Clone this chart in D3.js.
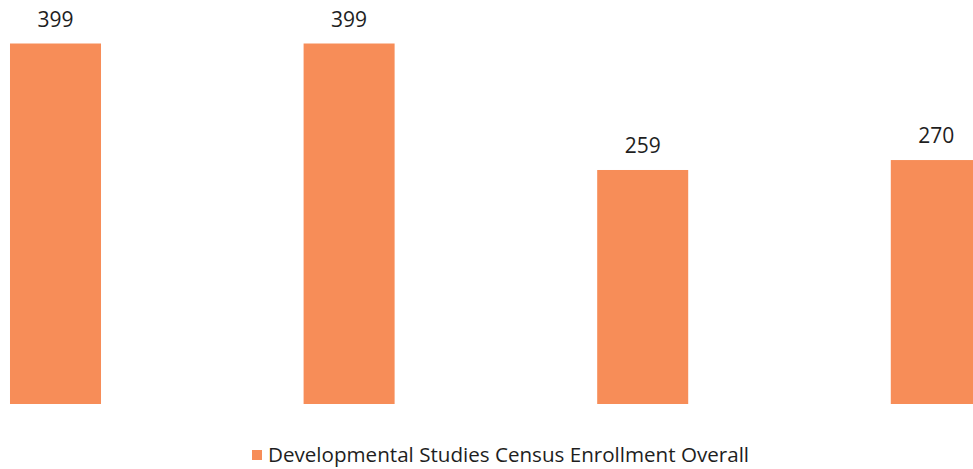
<!DOCTYPE html>
<html>
<head>
<meta charset="utf-8">
<script src="https://cdn.jsdelivr.net/npm/d3@7"></script>
<style>
  html, body { margin: 0; padding: 0; background: #fff; }
  svg { display: block; }
</style>
</head>
<body>
<svg id="chart" width="973" height="469"></svg>
<script>
const categories = ["Group 1", "Group 2", "Group 3", "Group 4"];
const enrollment = [399, 399, 259, 270];
const seriesName = "Developmental Studies Census Enrollment Overall";

const W = 973, H = 469;
const svg = d3.select("#chart");
const color = "#F78D58";
const font = "'Open Sans', 'Liberation Sans', sans-serif";

const x = d3.scaleBand()
  .domain(categories)
  .range([-91.3, 1083.1])
  .paddingInner(0.69)
  .paddingOuter(0.345);

const y = d3.scaleLinear()
  .domain([0, 399])
  .range([404, 43.5]);

const data = categories.map((c, i) => ({ c, v: enrollment[i] }));

svg.selectAll("rect.bar").data(data).enter().append("rect")
  .attr("class", "bar")
  .attr("x", d => x(d.c))
  .attr("y", d => y(d.v))
  .attr("width", x.bandwidth())
  .attr("height", d => y(0) - y(d.v))
  .attr("fill", color);

svg.selectAll("text.lbl").data(data).enter().append("text")
  .attr("class", "lbl")
  .attr("x", d => x(d.c) + x.bandwidth() / 2)
  .attr("y", d => y(d.v) - 17)
  .attr("text-anchor", "middle")
  .attr("font-family", font)
  .attr("font-size", 21)
  .attr("fill", "#1e1e1e")
  .text(d => d.v);

const lg = svg.append("g");
lg.append("rect")
  .attr("x", 252).attr("y", 450)
  .attr("width", 10).attr("height", 10)
  .attr("fill", color);
lg.append("text")
  .attr("x", 268).attr("y", 462)
  .attr("font-family", font)
  .attr("font-size", 20.6)
  .attr("fill", "#1e1e1e")
  .text(seriesName);
</script>
</body>
</html>
